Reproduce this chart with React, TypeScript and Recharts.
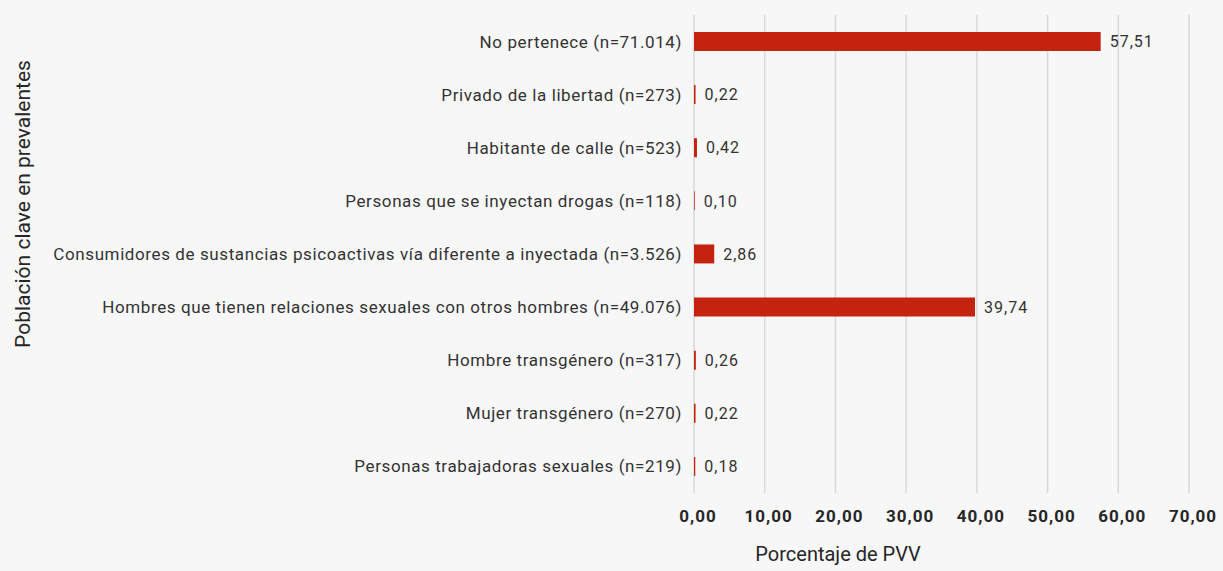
import { BarChart, Bar, XAxis, YAxis, CartesianGrid, LabelList } from "recharts";

const categories = [
  "No pertenece (n=71.014)",
  "Privado de la libertad (n=273)",
  "Habitante de calle  (n=523)",
  "Personas que se inyectan drogas (n=118)",
  "Consumidores de sustancias psicoactivas vía diferente a inyectada (n=3.526)",
  "Hombres que tienen relaciones sexuales con otros hombres (n=49.076)",
  "Hombre transgénero (n=317)",
  "Mujer transgénero (n=270)",
  "Personas trabajadoras sexuales (n=219)",
];
const percentages = [57.51, 0.22, 0.42, 0.1, 2.86, 39.74, 0.26, 0.22, 0.18];
const xTicks = [0, 10, 20, 30, 40, 50, 60, 70];

const data = categories.map((name, i) => ({ name, pct: percentages[i] }));

const font = "Roboto, sans-serif";
const fmt = (v: number) => v.toFixed(2).replace(".", ",");

const App = () => {
  return (
    <div style={{ width: 1223, height: 571, background: "#f7f7f7", fontFamily: font }}>
      <style>{"body{margin:0}"}</style>
      <BarChart
        width={1223}
        height={571}
        data={data}
        layout="vertical"
        margin={{ top: 15, right: 34, bottom: 0, left: 0 }}
        barCategoryGap={0}
      >
        <CartesianGrid horizontal={false} stroke="#d9d9d9" strokeWidth={1.5} />
        <XAxis
          type="number"
          domain={[0, 70]}
          ticks={xTicks}
          height={78}
          axisLine={false}
          tickLine={false}
          tickMargin={11}
          tickFormatter={fmt}
          tick={{ fontSize: 17, fontWeight: 700, fill: "#262626", fontFamily: font, letterSpacing: 1, dx: 4 }}
          label={{
            content: () => (
              <text x={838} y={561} textAnchor="middle" fontSize={20} fill="#262626" fontFamily={font}>
                Porcentaje de PVV
              </text>
            ),
          }}
        />
        <YAxis
          type="category"
          dataKey="name"
          width={694}
          axisLine={false}
          tickLine={false}
          tickMargin={6}
          interval={0}
          tick={{ fontSize: 17, fill: "#333333", fontFamily: font, letterSpacing: 0.6 }}
          label={{
            content: () => (
              <text
                x={30}
                y={204}
                textAnchor="middle"
                fontSize={21}
                fill="#262626"
                fontFamily={font}
                transform="rotate(-90 30 204)"
              >
                Población clave en prevalentes
              </text>
            ),
          }}
        />
        <Bar dataKey="pct" fill="#c4230f" barSize={19} isAnimationActive={false}>
          <LabelList
            dataKey="pct"
            position="right"
            offset={9}
            formatter={(v: any) => fmt(Number(v))}
            style={{ fontSize: 16, fill: "#333333", fontFamily: font, letterSpacing: 1 }}
          />
        </Bar>
      </BarChart>
    </div>
  );
};

export default App;
